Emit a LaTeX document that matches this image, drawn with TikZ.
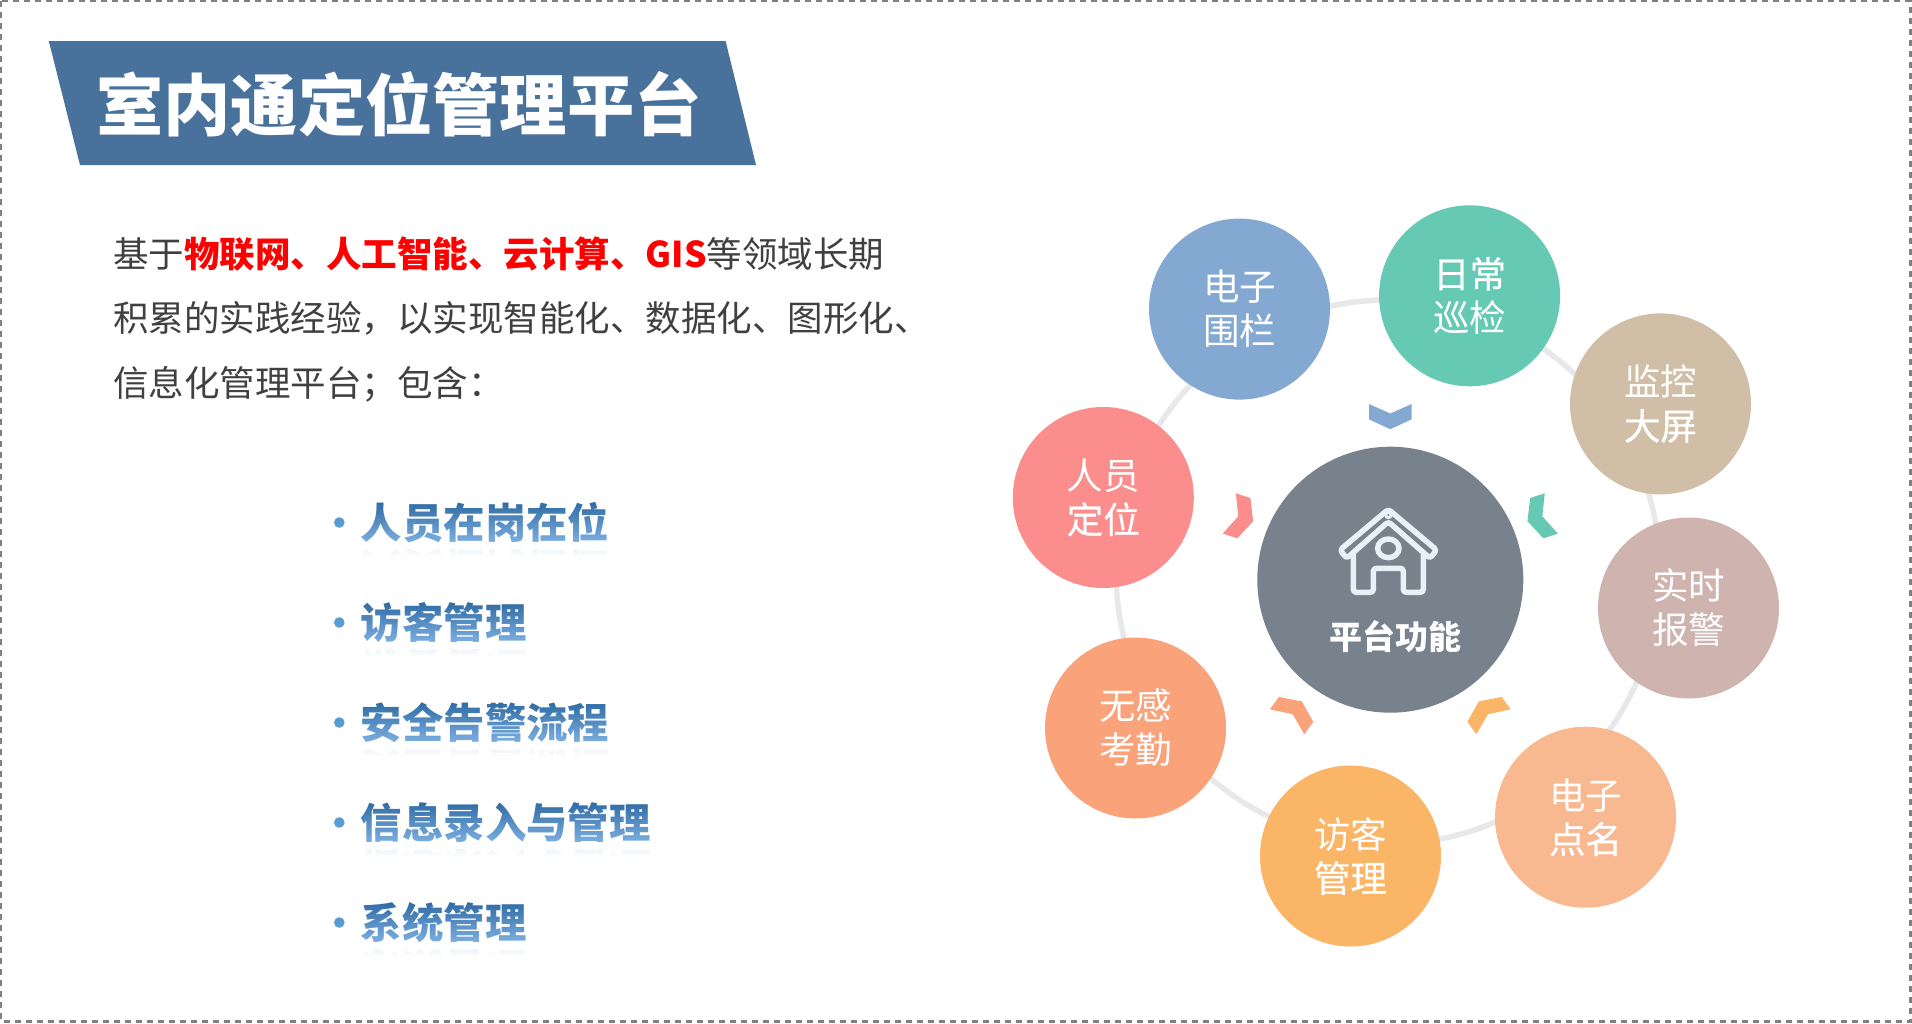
\documentclass[tikz,border=0pt]{standalone}
\usepackage{fontspec}
\setmainfont{Noto Sans CJK SC}
\newfontfamily\midfont[FakeBold=0.6]{Noto Sans CJK SC}
\usetikzlibrary{fadings}
\definecolor{bannerblue}{HTML}{48719B}
\definecolor{bodygray}{HTML}{404040}
\definecolor{framegray}{HTML}{808080}
\definecolor{ringgray}{HTML}{E7E8EA}
\definecolor{hubgray}{HTML}{78828C}
\definecolor{houseline}{HTML}{E8F0F8}
\definecolor{rowblue}{HTML}{2E6AA3}
\definecolor{rowlift}{rgb}{0.38,0.47,0.69}
\definecolor{rowdot}{HTML}{5B9BD5}
\definecolor{fenceblue}{HTML}{83A9D2}
\definecolor{patrolteal}{HTML}{66C9B4}
\definecolor{screentan}{HTML}{D1BEA6}
\definecolor{alarmrose}{HTML}{CFB3AE}
\definecolor{callpeach}{HTML}{F8B990}
\definecolor{visitorange}{HTML}{FBB566}
\definecolor{attendsalmon}{HTML}{FAA279}
\definecolor{staffpink}{HTML}{FC8D8D}
\tikzset{
  spot/.style={circle, minimum size=181pt, inner sep=0pt, text=white, align=center,
    font=\fontsize{36.5}{44}\selectfont},
  bodyline/.style={anchor=west, inner sep=0pt, text=bodygray, text height=32pt, text depth=5pt,
    font=\fontsize{35.5}{44}\selectfont},
  rowtext/.style={anchor=west, inner sep=0pt, text height=36pt, text depth=5pt,
    font=\fontsize{41.4}{50}\bfseries\selectfont},
  houseink/.style={draw=houseline, line width=5.5pt, line join=round, line cap=round, rounded corners=3pt}
}

\begin{document}
\begin{tikzpicture}[x=1pt, y=-1pt]

        \def\hubx{1390.3}
        \def\huby{579.7}

        \useasboundingbox (0,0) rectangle (1912,1023);
        \fill[white] (0,0) rectangle (1912,1023);
        \draw[line width=2.5pt, framegray, dash pattern=on 6pt off 5pt] (1.2,1.2) rectangle (1910.3,1021.5);

        \fill[bannerblue] (48.8,41) -- (725.6,41) -- (756,165) -- (80,165) -- cycle;
        \node[text=white, inner sep=0pt, font=\fontsize{67.3}{70}\bfseries\selectfont] (title) at (399,104) {室内通定位管理平台};

        \node[bodyline] (lineone) at (113,254) {基于\textbf{\textcolor{red}{物联网、人工智能、云计算、GIS}}等领域长期};
        \node[bodyline] (linetwo) at (113,318) {积累的实践经验\char"FF0C 以实现智能化、数据化、图形化、};
        \node[bodyline] (linethree) at (113,383) {信息化管理平台\char"FF1B 包含\char"FF1A};

        \foreach \y/\rowlabel [count=\i] in {522.5/人员在岗在位, 622.5/访客管理, 722.5/安全告警流程, 822.5/信息录入与管理, 922.5/系统管理} {
          \pgfmathsetmacro{\ymirror}{\y+46}
          \node[rowtext, text=rowblue!45, opacity=0.25, yscale=-1, transform shape] (mirror\i) at (360.7,\ymirror) {\rowlabel};
          \fill[rowdot, opacity=0.08] (339.3,\ymirror) circle (5.3);
          \fill[white, path fading=north] (330,\y+22) rectangle (mirror\i.east |- 0,\y+34);
          \fill[white] (330,\y+34) rectangle (mirror\i.east |- 0,\y+72);
          \node[rowtext, text=rowblue] (row\i) at (360.7,\y) {\rowlabel};
          \begin{scope}[blend mode=screen]
            \shade[top color=black, bottom color=rowlift] (row\i.north west) rectangle (row\i.south east);
          \end{scope}
          \node[circle, fill=rowdot, minimum size=10.6pt, inner sep=0pt] (dot\i) at (339.3,\y) {};
        }

        \draw[ringgray, line width=5.5pt] (1388,572) circle (272);

        \node[spot, fill=fenceblue] (fence) at (1239.5,309.1) {电子\\围栏};
        \node[spot, fill=patrolteal] (patrol) at (1469.6,295.8) {{\midfont 日常}\\巡检};
        \node[spot, fill=screentan] (wall) at (1660.5,403.9) {监控\\{\midfont 大屏}};
        \node[spot, fill=alarmrose] (alarm) at (1688.5,608) {实时\\报警};
        \node[spot, fill=callpeach] (rollcall) at (1585.5,817.2) {电子\\{\midfont 点名}};
        \node[spot, fill=visitorange] (visitor) at (1350.5,856) {访客\\{\midfont 管理}};
        \node[spot, fill=attendsalmon] (attend) at (1135.5,728) {无感\\考勤};
        \node[spot, fill=staffpink] (staff) at (1103.3,497.5) {人员\\{\midfont 定位}};

        \node[circle, fill=hubgray, minimum size=266pt, inner sep=0pt] (hub) at (\hubx,\huby) {};
        \node[text=white, inner sep=0pt, font=\fontsize{33}{40}\bfseries\selectfont] (hublabel) at (1395,636.5) {平台功能};

        \foreach \ang/\tipcolor/\dx/\dy in {0/fenceblue/0/0, -72/patrolteal/-6/-12, -144/visitorange/0/0, -216/attendsalmon/0/0, -288/staffpink/6/-12} {
          \begin{scope}[shift={(\hubx+\dx,\huby+\dy)}, rotate=\ang]
            \fill[\tipcolor] (-21.2,-175.6) -- (0,-166.2) -- (21.2,-175.6) -- (21.2,-160.3) -- (0,-150.5) -- (-21.2,-160.3) -- cycle;
          \end{scope}
        }

        \begin{scope}[shift={(1300,480)}, x=0.3333pt, y=-0.3333pt]
          \draw[houseink] (265,88) -- (120,210) -- (140,235) -- (265,125) -- (390,235) -- (410,210) -- cycle;
          \draw[draw=houseline, line width=3pt] (265,105) circle (8);
          \draw[houseink] (160,225) -- (160,337) -- (220,337) -- (220,265) -- (310,265) -- (310,337) -- (370,337) -- (370,225);
          \draw[houseink] (265,205) ellipse (32 and 28);
        \end{scope}

      \end{tikzpicture}
\end{document}
